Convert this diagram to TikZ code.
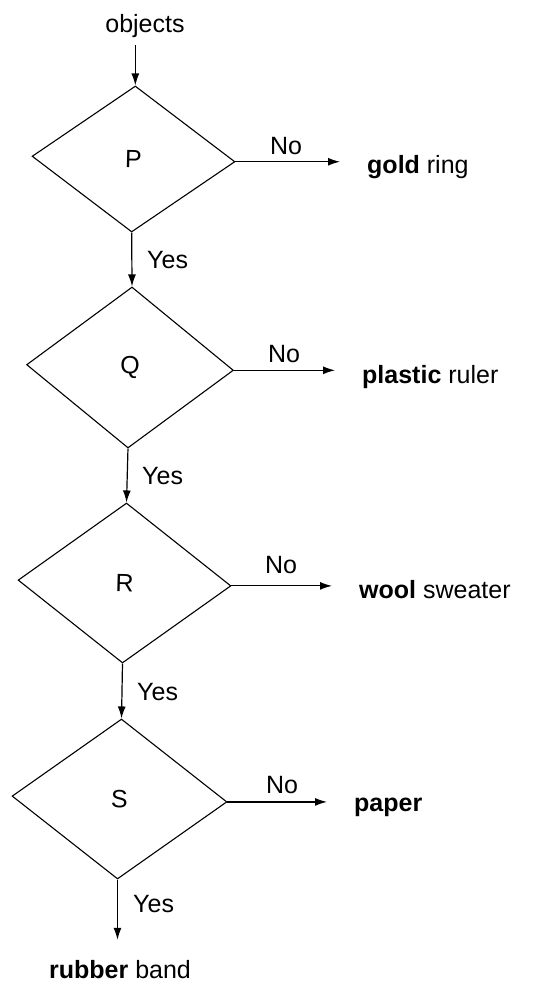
\documentclass[tikz,border=0pt]{standalone}
\usepackage{fontspec}
\setmainfont{Liberation Sans}
\usetikzlibrary{shapes.geometric,arrows.meta}
\begin{document}
\begin{tikzpicture}[x=1pt,y=-1pt,
  txt/.style={inner sep=0pt, font=\fontsize{25}{30}\selectfont, text height=18pt, text depth=5pt},
  dia/.style={draw, diamond, line width=1.1pt, inner sep=0pt, transform shape,
    xslant=0.025, yslant=-0.027, font=\fontsize{25}{30}\selectfont},
  arr/.style={line width=1.2pt, -{Latex[length=12pt,width=8pt]}},
  noarr/.style={arr, shorten >=27pt}]
\useasboundingbox (0,0) rectangle (549,984);
% labels
\node[txt] (obj) at (145,26.5) {objects};
% diamonds
\begin{scope}[shift={(133.5,159)}]
\node[dia, minimum width=203pt, minimum height=146pt] (P) at (0,0) {P};
\end{scope}
\begin{scope}[shift={(130,367.5)}]
\node[dia, minimum width=207pt, minimum height=161pt] (Q) at (0,0) {Q};
\end{scope}
\begin{scope}[shift={(124.5,583)}]
\node[dia, minimum width=213pt, minimum height=160pt] (R) at (0,0) {R};
\end{scope}
\begin{scope}[shift={(119.5,799)}]
\node[dia, minimum width=215pt, minimum height=160pt] (S) at (0,0) {S};
\end{scope}
% outcomes
\node[txt, anchor=west] (gold) at (367,167.5) {\textbf{gold} ring};
\node[txt, anchor=west] (plastic) at (362,376.5) {\textbf{plastic} ruler};
\node[txt, anchor=west] (wool) at (359,591.5) {\textbf{wool} sweater};
\node[txt, anchor=west] (paper) at (354,804.5) {\textbf{paper}};
\node[txt] (rubber) at (120,971.5) {\textbf{rubber} band};
% No labels
\node[txt] (noP) at (286,148.5) {No};
\node[txt] (noQ) at (284,355.5) {No};
\node[txt] (noR) at (281,566.5) {No};
\node[txt] (noS) at (282,786.5) {No};
% Yes labels
\node[txt, anchor=west] (yesP) at (147,261.5) {Yes};
\node[txt, anchor=west] (yesQ) at (142,477.5) {Yes};
\node[txt, anchor=west] (yesR) at (137,693.5) {Yes};
\node[txt, anchor=west] (yesS) at (133,905.5) {Yes};
% connectors
\draw[arr, shorten <=7pt] (obj.south -| P.north) -- (P.north);
\draw[arr] (P.south) -- (Q.north);
\draw[arr] (Q.south) -- (R.north);
\draw[arr] (R.south) -- (S.north);
\draw[arr, shorten >=20pt] (S.south) -- (S.south |- rubber.north);
\draw[noarr] (P.east) -- (P.east -| gold.west);
\draw[noarr] (Q.east) -- (Q.east -| plastic.west);
\draw[noarr] (R.east) -- (R.east -| wool.west);
\draw[noarr] (S.east) -- (S.east -| paper.west);
\end{tikzpicture}
\end{document}
